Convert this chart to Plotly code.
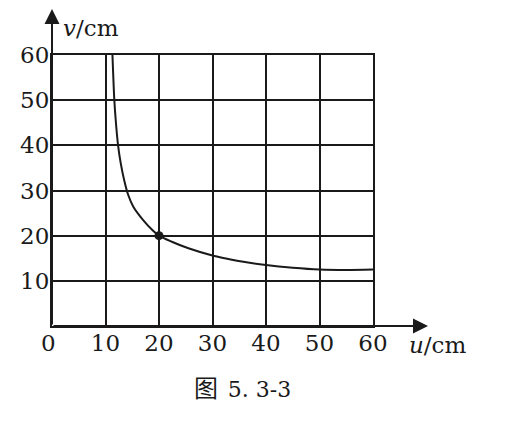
import plotly.graph_objects as go

# values
u_vals = [11.3, 11.65, 11.95, 12.35, 12.85, 13.55, 14.25, 15.2, 17.0, 18.8, 20, 22.4, 25.5, 30, 32.3, 35.8, 40, 45, 50, 55, 60]
v_vals = [60, 50, 45, 40, 36, 32, 29, 26.4, 23.5, 21.2, 20, 18.65, 17.2, 15.6, 15.0, 14.2, 13.5, 12.9, 12.5, 12.4, 12.5]
point_u = [20]
point_v = [20]
x_ticks = [0, 10, 20, 30, 40, 50, 60]
y_ticks = [10, 20, 30, 40, 50, 60]

ink = "#1a1a1a"
serif = "DejaVu Serif, Liberation Serif, serif"

OFF = 8  # page body margin
W, H = 519 - OFF, 421 - OFF
L, T = 52 - OFF, 55 - OFF
R, B = W - (373 - OFF), H - (326 - OFF)
pw, ph = W - L - R, H - T - B


def px_x(p):
    return (p - OFF - L) / pw


def px_y(p):
    return (H - B - (p - OFF)) / ph


fig = go.Figure()
fig.add_trace(go.Scatter(x=u_vals, y=v_vals, mode="lines",
                         line=dict(color=ink, width=2, shape="spline", smoothing=0.8),
                         hoverinfo="skip"))
fig.add_trace(go.Scatter(x=point_u, y=point_v, mode="markers",
                         marker=dict(color=ink, size=9), hoverinfo="skip"))

axis_common = dict(showgrid=True, gridcolor=ink, gridwidth=2, zeroline=False,
                   showline=True, linecolor=ink, linewidth=2, mirror=True,
                   ticks="", tickfont=dict(family=serif, size=23, color=ink),
                   fixedrange=True, automargin=False)
fig.update_xaxes(range=[0, 60], tickvals=x_ticks,
                 ticktext=["0&nbsp;"] + [str(t) for t in x_ticks[1:]],
                 ticklabelstandoff=-5, **axis_common)
fig.update_yaxes(range=[0, 60], tickvals=y_ticks, ticktext=[str(t) for t in y_ticks],
                 ticklabelstandoff=-4, **axis_common)

# axis arrows
fig.add_annotation(x=px_x(428), y=0, xref="paper", yref="paper",
                   ax=-(428 - 52), ay=0, text="", showarrow=True,
                   arrowhead=2, arrowsize=1.5, arrowwidth=2, arrowcolor=ink, standoff=0)
fig.add_annotation(x=0, y=px_y(9), xref="paper", yref="paper",
                   ax=0, ay=(326 - 9), text="", showarrow=True,
                   arrowhead=2, arrowsize=1.5, arrowwidth=2, arrowcolor=ink, standoff=0)

# axis titles
fig.add_annotation(x=px_x(61), y=px_y(28), xref="paper", yref="paper",
                   xanchor="left", yanchor="middle",
                   text="<i>v</i>/cm", showarrow=False,
                   font=dict(family=serif, size=23, color=ink))
fig.add_annotation(x=px_x(407), y=px_y(345), xref="paper", yref="paper",
                   xanchor="left", yanchor="middle",
                   text="<i>u</i>/cm", showarrow=False,
                   font=dict(family=serif, size=23, color=ink))
# caption
fig.add_annotation(x=px_x(243), y=px_y(386), xref="paper", yref="paper",
                   xanchor="center", yanchor="middle", showarrow=False,
                   text="<span style='font-size:24px'>图</span>&nbsp;&nbsp;"
                        "<span style='font-family:DejaVu Serif'>5. 3-3</span>",
                   font=dict(family="Noto Sans CJK SC", size=22, color=ink))

fig.update_layout(width=W, height=H, showlegend=False,
                  paper_bgcolor="white", plot_bgcolor="white",
                  margin=dict(l=L, r=R, t=T, b=B, autoexpand=False))

fig.write_html("out.html")
